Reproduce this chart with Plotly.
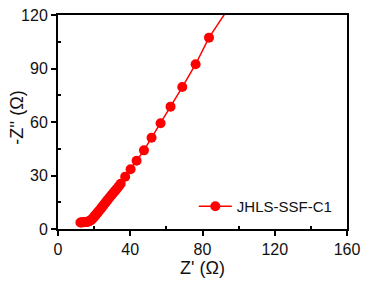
import plotly.graph_objects as go

series_name = "JHLS-SSF-C1"
z_real = [12.4, 13.0, 13.6, 14.2, 14.8, 15.4, 16.0, 16.6, 17.2, 17.8, 18.3, 18.8, 19.3, 19.8,
          20.3, 20.8, 21.3, 21.8, 22.3, 22.9, 23.5, 24.1, 24.7, 25.3, 26.0, 26.7, 27.4, 28.2,
          29.0, 29.8, 30.7, 31.6, 32.6, 33.6, 34.7, 37.2, 40.2, 43.5, 47.6, 51.8, 56.8, 62.3,
          68.8, 76.2, 83.6, 94.0]
z_imag = [3.6, 3.7, 3.8, 3.8, 3.9, 3.9, 4.0, 4.1, 4.3, 4.6, 5.0, 5.5, 6.0, 6.6,
          7.2, 7.8, 8.4, 9.0, 9.7, 10.4, 11.1, 11.9, 12.7, 13.5, 14.4, 15.3, 16.2, 17.2,
          18.2, 19.2, 20.3, 21.4, 22.6, 23.9, 25.4, 29.3, 33.5, 38.3, 44.1, 51.2, 59.3, 68.6,
          79.6, 92.4, 107.3, 123.2]

x_ticks = [0, 40, 80, 120, 160]
y_ticks = [0, 30, 60, 90, 120]

fig = go.Figure()
fig.add_trace(go.Scatter(
    x=z_real, y=z_imag, mode="lines+markers", name=series_name,
    line=dict(color="#ff0000", width=1.5),
    marker=dict(color="#ff0000", size=10, symbol="circle"),
    cliponaxis=True,
))

font_family = "Liberation Sans, Arial, sans-serif"
axis_common = dict(
    showline=True, linecolor="black", linewidth=2, mirror=True,
    ticks="outside", ticklen=5, tickwidth=1.5, tickcolor="black",
    showgrid=False, zeroline=False, automargin=False,
    tickfont=dict(family=font_family, size=16, color="#111"),
)

fig.update_layout(
    width=388, height=290,
    margin=dict(l=58, r=41, t=15, b=61),
    paper_bgcolor="white", plot_bgcolor="white",
    showlegend=True,
    legend=dict(x=0.47, y=0.105, xanchor="left", yanchor="middle", itemwidth=33,
                bgcolor="rgba(0,0,0,0)", borderwidth=0,
                font=dict(family=font_family, size=15, color="#111")),
    xaxis=dict(range=[0, 160], tickvals=x_ticks, ticktext=[str(v) for v in x_ticks],
               title=dict(text="Z' (Ω)", font=dict(family=font_family, size=18, color="#111"), standoff=0),
               minor=dict(tickvals=[20, 60, 100, 140], ticks="inside", ticklen=3, tickwidth=1.5, tickcolor="black"),
               **axis_common),
    yaxis=dict(range=[0, 120], tickvals=y_ticks, ticktext=[str(v) for v in y_ticks],
               minor=dict(tickvals=[15, 45, 75, 105], ticks="inside", ticklen=3, tickwidth=1.5, tickcolor="black"),
               **axis_common),
    annotations=[dict(text="-Z'' (Ω)", textangle=-90, xref="paper", yref="paper",
                      x=-0.142, y=0.52, xanchor="center", yanchor="middle", showarrow=False,
                      font=dict(family=font_family, size=18, color="#111"))],
)

fig.write_html("out.html")
